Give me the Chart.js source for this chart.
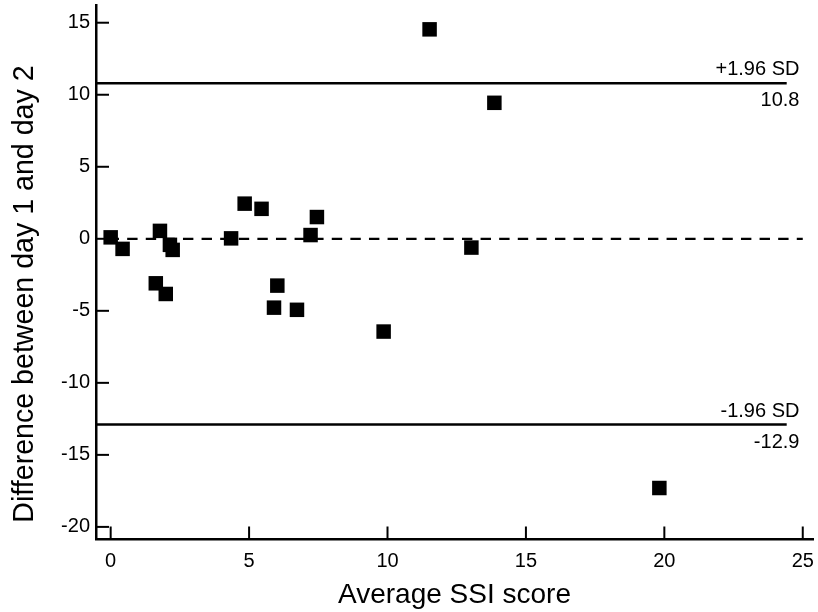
<!DOCTYPE html>
<html>
<head>
<meta charset="utf-8">
<script src="https://cdn.jsdelivr.net/npm/chart.js@4/dist/chart.umd.min.js"></script>
<style>
  html, body { margin: 0; padding: 0; background: #fff; }
  #wrap { width: 818px; height: 612px; }
</style>
</head>
<body>
<div id="wrap"><canvas id="c" width="818" height="612"></canvas></div>
<script>
// Bland-Altman data: mean of the two days vs. day-to-day difference
const avgScore = [0, 0.43, 1.78, 2.14, 2.24, 1.63, 1.99, 4.35, 4.84, 5.45, 7.45, 7.22, 6.02, 5.90, 6.73, 9.86, 11.52, 13.86, 13.03, 19.82];
const dayDiff  = [0.1, -0.7, 0.55, -0.42, -0.77, -3.09, -3.83, 0.03, 2.44, 2.08, 1.51, 0.26, -3.25, -4.78, -4.93, -6.44, 14.54, 9.44, -0.61, -17.3];

// Limits of agreement and the zero reference
const upperLimit = 10.8;
const lowerLimit = -12.9;
const zeroLine = 0;
const limitNames = ['+1.96 SD', '-1.96 SD'];

// Axis ticks and titles
const xTicks = [0, 5, 10, 15, 20, 25];
const yTicks = [-20, -15, -10, -5, 0, 5, 10, 15];
const xTitle = 'Average SSI score';
const yTitle = 'Difference between day 1 and day 2';

const X_MIN = -0.53, X_MAX = 25.37;
const Y_MIN = -20.84, Y_MAX = 16.23;
const LIMIT_END = 24.42;     // where the limit lines stop
const LABEL_RIGHT = 24.88;   // right edge of the limit labels

const FONT = '"Liberation Sans", Arial, Helvetica, sans-serif';

const points = avgScore.map((x, i) => ({ x: x, y: dayDiff[i] }));

// Inward tick marks on both axes
const innerTicks = {
  id: 'innerTicks',
  beforeDatasetsDraw(chart) {
    const { ctx, chartArea, scales } = chart;
    ctx.save();
    ctx.strokeStyle = '#000';
    ctx.lineWidth = 2;
    xTicks.forEach(v => {
      const px = scales.x.getPixelForValue(v);
      ctx.beginPath();
      ctx.moveTo(px, chartArea.bottom);
      ctx.lineTo(px, chartArea.bottom - 12.5);
      ctx.stroke();
    });
    yTicks.forEach(v => {
      const py = scales.y.getPixelForValue(v);
      ctx.beginPath();
      ctx.moveTo(chartArea.left, py);
      ctx.lineTo(chartArea.left + 13, py);
      ctx.stroke();
    });
    ctx.restore();
  }
};

// Text next to the limit lines, plus the vertical axis title
const annotations = {
  id: 'annotations',
  afterDatasetsDraw(chart) {
    const { ctx, scales } = chart;
    const xr = scales.x.getPixelForValue(LABEL_RIGHT);
    ctx.save();
    ctx.fillStyle = '#000';
    ctx.font = '20px ' + FONT;
    ctx.textAlign = 'right';
    ctx.textBaseline = 'alphabetic';
    [[upperLimit, limitNames[0]], [lowerLimit, limitNames[1]]].forEach(([v, name]) => {
      const py = scales.y.getPixelForValue(v);
      ctx.fillText(name, xr, py - 8);
      ctx.fillText(v.toFixed(1), xr, py + 23);
    });
    ctx.restore();

    ctx.save();
    ctx.fillStyle = '#000';
    ctx.font = '28.6px ' + FONT;
    ctx.textAlign = 'center';
    ctx.textBaseline = 'alphabetic';
    ctx.translate(33, 294);
    ctx.rotate(-Math.PI / 2);
    ctx.fillText(yTitle, 0, 0);
    ctx.restore();
  }
};

new Chart(document.getElementById('c'), {
  type: 'scatter',
  data: {
    datasets: [
      {
        data: points,
        pointStyle: 'rect',
        pointRadius: 10.25,
        pointHoverRadius: 10.25,
        backgroundColor: '#000',
        borderWidth: 0
      },
      {
        data: [{ x: zeroLine, y: zeroLine }, { x: 25, y: zeroLine }],
        showLine: true,
        pointRadius: 0,
        borderColor: '#000',
        borderWidth: 2.2,
        borderDash: [10.4, 8.2],
        borderDashOffset: 2.1
      },
      {
        data: [{ x: X_MIN, y: upperLimit }, { x: LIMIT_END, y: upperLimit }],
        showLine: true,
        pointRadius: 0,
        borderColor: '#000',
        borderWidth: 2.5
      },
      {
        data: [{ x: X_MIN, y: lowerLimit }, { x: LIMIT_END, y: lowerLimit }],
        showLine: true,
        pointRadius: 0,
        borderColor: '#000',
        borderWidth: 2.5
      }
    ]
  },
  options: {
    responsive: false,
    animation: false,
    devicePixelRatio: 1,
    layout: { autoPadding: false, padding: { top: 5, right: 5, left: 0, bottom: 0 } },
    plugins: {
      legend: { display: false },
      tooltip: { enabled: false }
    },
    scales: {
      x: {
        type: 'linear',
        position: 'bottom',
        min: X_MIN,
        max: X_MAX,
        afterBuildTicks: s => { s.ticks = xTicks.map(v => ({ value: v })); },
        afterFit: s => { s.height = 73; s.paddingLeft = 0; s.paddingRight = 0; },
        grid: { display: true, drawOnChartArea: false, drawTicks: false },
        border: { display: true, color: '#000', width: 2.5 },
        ticks: {
          color: '#000',
          font: { family: FONT, size: 20 },
          padding: 10,
          maxRotation: 0,
          autoSkip: false
        },
        title: {
          display: true,
          text: xTitle,
          color: '#000',
          font: { family: FONT, size: 28 },
          padding: { top: 0, bottom: 0 }
        }
      },
      y: {
        type: 'linear',
        min: Y_MIN,
        max: Y_MAX,
        afterBuildTicks: s => { s.ticks = yTicks.map(v => ({ value: v })); },
        afterFit: s => { s.width = 96; s.paddingTop = 0; s.paddingBottom = 0; },
        grid: { display: true, drawOnChartArea: false, drawTicks: false },
        border: { display: true, color: '#000', width: 2.5 },
        ticks: {
          color: '#000',
          font: { family: FONT, size: 20 },
          padding: 6,
          autoSkip: false
        },
        title: { display: false }
      }
    }
  },
  plugins: [innerTicks, annotations]
});
</script>
</body>
</html>
